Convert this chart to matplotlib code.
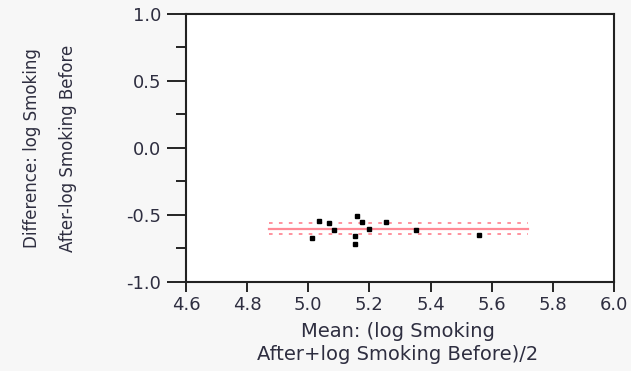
import matplotlib
matplotlib.use("Agg")
import matplotlib.pyplot as plt
from matplotlib.ticker import MultipleLocator

# mean of the two log values and their difference
mean_vals = [5.036, 5.067, 5.083, 5.012, 5.160, 5.176, 5.154, 5.152, 5.198, 5.253, 5.354, 5.557]
diff_vals = [-0.545, -0.558, -0.614, -0.669, -0.505, -0.550, -0.659, -0.716, -0.604, -0.550, -0.614, -0.647]

mean_diff = -0.602
ci_upper = -0.562
ci_lower = -0.640
line_start = 4.87
line_end = 5.72

plt.rcParams['font.family'] = ['DejaVu Sans']

fig = plt.figure(figsize=(6.31, 3.71), dpi=100, facecolor='#f7f7f7')
ax = fig.add_axes([0.2948, 0.2399, 0.973 - 0.2948, 0.9623 - 0.2399])
ax.set_facecolor('white')

ax.plot([line_start, line_end], [mean_diff, mean_diff], color='#ff8a96', lw=1.6, zorder=2)
ax.plot([line_start, line_end], [ci_upper, ci_upper], color='#ff8a96', lw=1.3,
        linestyle=(0, (2, 3.5)), zorder=2)
ax.plot([line_start, line_end], [ci_lower, ci_lower], color='#ff8a96', lw=1.3,
        linestyle=(0, (2, 3.5)), zorder=2)
ax.plot(mean_vals, diff_vals, 's', color='black', ms=3, zorder=3)

ax.set_xlim(4.6, 6.0)
ax.set_ylim(-1.0, 1.0)
ax.xaxis.set_major_locator(MultipleLocator(0.2))
ax.yaxis.set_major_locator(MultipleLocator(0.5))
ax.yaxis.set_minor_locator(MultipleLocator(0.25))

for s in ax.spines.values():
    s.set_linewidth(1.5)
    s.set_color('#222222')

tick_color = '#2e2e40'
ax.tick_params(axis='y', which='major', length=14, width=1.2, labelsize=13,
               labelcolor=tick_color, pad=4)
ax.tick_params(axis='y', which='minor', length=7, width=1.2)
ax.tick_params(axis='x', which='major', length=7, width=1.2, labelsize=13,
               labelcolor=tick_color, pad=3)
ax.set_xticklabels([f"{v:.1f}" for v in ax.get_xticks()])
ax.set_yticklabels([f"{v:.1f}" for v in ax.get_yticks()])

fig.text(398 / 631, 1 - 343 / 371, "Mean: (log Smoking\nAfter+log Smoking Before)/2",
         ha='center', va='center', fontsize=14, color=tick_color, linespacing=1.3)
fig.text(50 / 631, 1 - 148 / 371, "Difference: log Smoking\nAfter-log Smoking Before",
         rotation=90, ha='center', va='center',
         fontsize=12, color=tick_color, linespacing=2.25)

fig.savefig("out.png", dpi=100, facecolor=fig.get_facecolor())
